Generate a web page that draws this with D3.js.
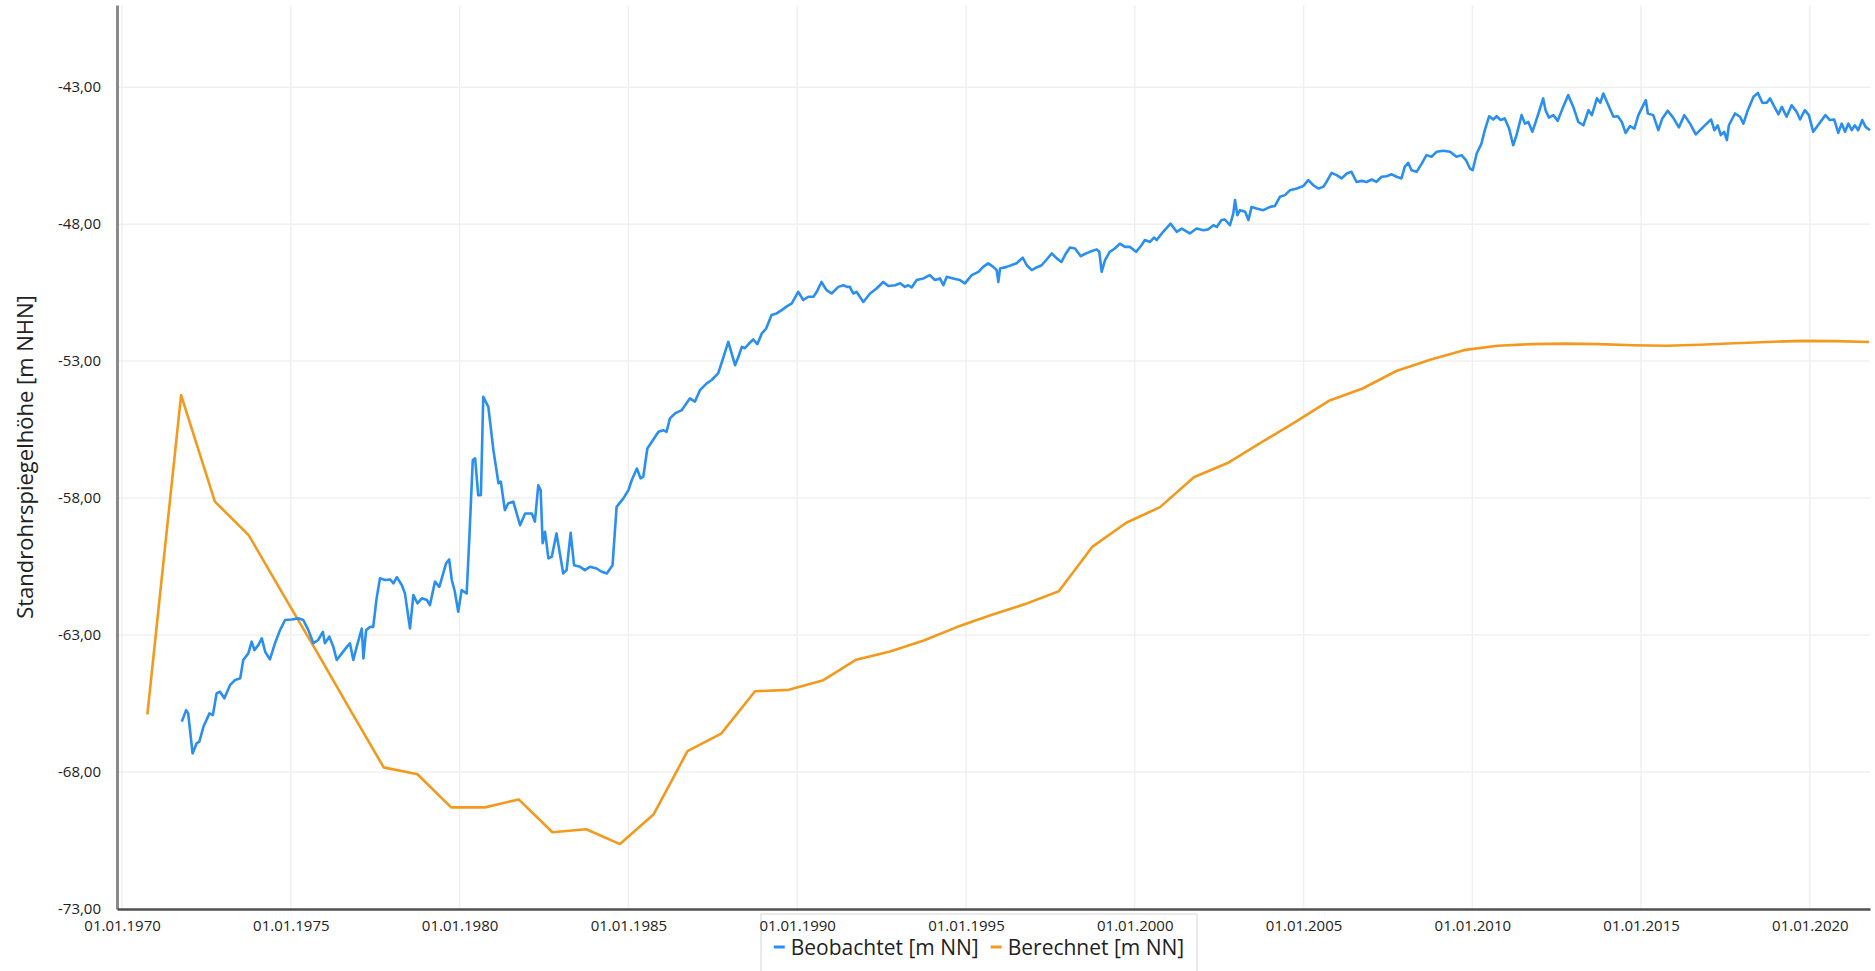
<!DOCTYPE html>
<html>
<head>
<meta charset="utf-8">
<script src="https://cdn.jsdelivr.net/npm/d3@7"></script>
<style>
  html, body { margin: 0; padding: 0; background: #fff; }
  svg { display: block; }
  text { font-family: "Open Sans", "Noto Sans", sans-serif; fill: #222; }
</style>
</head>
<body>
<svg id="chart" width="1875" height="971"></svg>
<script>
// ---------- data ----------
const seriesNames = ["Beobachtet [m NN]", "Berechnet [m NN]"];
const yTickValues = [-73, -68, -63, -58, -53, -48, -43];
const xTickYears = [1970, 1975, 1980, 1985, 1990, 1995, 2000, 2005, 2010, 2015, 2020];
const xDomainYears = [1969.85, 2021.78];
const yDomain = [-73, -40];

// Berechnet (computed), one value per year (autumn)
const calcTimes = [1970.75,1971.75,1972.75,1973.75,1974.75,1975.75,1976.75,1977.75,1978.75,1979.75,
  1980.75,1981.75,1982.75,1983.75,1984.75,1985.75,1986.75,1987.75,1988.75,1989.75,
  1990.75,1991.75,1992.75,1993.75,1994.75,1995.75,1996.75,1997.75,1998.75,1999.75,
  2000.75,2001.75,2002.75,2003.75,2004.75,2005.75,2006.75,2007.75,2008.75,2009.75,
  2010.75,2011.75,2012.75,2013.75,2014.75,2015.75,2016.75,2017.75,2018.75,2019.75,
  2020.75,2021.75];
const calcLevels = [-65.9,-54.24,-58.13,-59.35,-61.47,-63.57,-65.71,-67.83,-68.08,-69.29,
  -69.29,-69.0,-70.2,-70.09,-70.63,-69.54,-67.24,-66.6,-65.05,-65.0,
  -64.66,-63.9,-63.6,-63.2,-62.7,-62.27,-61.87,-61.4,-59.77,-58.9,
  -58.33,-57.24,-56.72,-55.97,-55.23,-54.45,-54.0,-53.36,-52.95,-52.6,
  -52.44,-52.38,-52.36,-52.38,-52.42,-52.44,-52.4,-52.35,-52.3,-52.26,
  -52.27,-52.3];

// Beobachtet (observed)
const obsTimes = [
  1971.77,1971.90,1971.96,1972.09,1972.21,1972.29,1972.41,1972.59,1972.69,1972.80,1972.90,
  1973.03,1973.20,1973.35,1973.50,1973.59,1973.74,1973.84,1973.92,1974.04,1974.14,1974.24,
  1974.38,1974.53,1974.68,1974.83,1975.03,1975.22,1975.37,1975.52,1975.67,1975.81,1975.95,
  1976.01,1976.14,1976.26,1976.36,1976.51,1976.66,1976.75,1976.85,1976.95,1977.10,1977.15,
  1977.23,1977.35,1977.44,1977.54,1977.64,1977.79,1977.94,1978.04,1978.14,1978.29,1978.38,
  1978.53,1978.63,1978.75,1978.88,1979.03,1979.12,1979.27,1979.40,1979.50,1979.60,1979.69,
  1979.77,1979.86,1979.96,1980.06,1980.21,1980.29,1980.39,1980.46,1980.55,1980.63,1980.70,
  1980.85,1981.00,1981.15,1981.22,1981.34,1981.44,1981.59,
  1981.79,1981.94,1982.14,1982.23,1982.33,1982.40,1982.46,1982.53,1982.63,1982.73,1982.87,
  1983.07,1983.17,1983.29,1983.39,1983.57,1983.71,1983.86,1984.06,1984.21,1984.36,1984.53,
  1984.65,1984.85,1985.00,1985.10,1985.25,1985.36,1985.44,1985.56,1985.69,1985.89,1986.03,
  1986.13,1986.23,1986.38,1986.58,1986.68,1986.82,1986.97,1987.12,1987.32,1987.47,1987.66,
  1987.79,1987.96,1988.06,1988.16,1988.26,1988.36,1988.45,1988.58,1988.70,1988.82,1988.95,
  1989.08,1989.24,1989.39,1989.54,1989.67,1989.84,1990.03,1990.18,1990.33,1990.48,1990.58,
  1990.72,1990.87,1991.02,1991.22,1991.37,1991.48,
  1991.56,1991.66,1991.76,1991.96,1992.16,1992.35,1992.55,1992.70,1992.90,1993.05,1993.19,
  1993.29,1993.39,1993.54,1993.74,1993.93,1994.08,1994.23,1994.33,1994.43,1994.62,1994.82,
  1994.97,1995.17,1995.37,1995.51,1995.66,1995.81,1995.91,1995.96,1996.01,1996.21,1996.50,
  1996.68,1996.80,1996.95,1997.09,1997.24,1997.39,1997.54,1997.69,1997.83,1997.96,1998.08,
  1998.23,1998.40,1998.52,1998.67,1998.87,1998.95,1999.02,1999.12,1999.26,1999.41,1999.56,
  1999.71,1999.86,2000.04,2000.20,2000.30,2000.45,2000.57,2000.65,2000.84,2001.06,2001.24,
  2001.39,
  2001.63,2001.83,2002.03,2002.18,2002.33,2002.43,2002.57,2002.67,2002.82,2002.92,2002.97,
  2003.04,2003.12,2003.27,2003.37,2003.46,2003.61,2003.81,2004.01,2004.15,2004.30,2004.45,
  2004.60,2004.80,2004.99,2005.14,2005.29,2005.44,2005.58,2005.68,2005.83,2005.98,2006.13,
  2006.28,2006.42,2006.57,2006.72,2006.87,2007.02,2007.16,2007.31,2007.46,2007.61,2007.76,
  2007.90,2008.00,2008.10,2008.20,2008.35,2008.50,2008.64,2008.79,2008.94,2009.14,2009.34,
  2009.53,2009.68,2009.81,2009.93,2010.01,2010.13,2010.27,2010.37,2010.50,2010.62,2010.72,
  2010.84,2010.96,2011.09,2011.21,2011.31,2011.46,
  2011.56,2011.66,2011.78,2011.96,2012.10,2012.17,2012.27,2012.40,2012.53,2012.69,2012.84,
  2012.99,2013.14,2013.29,2013.44,2013.54,2013.69,2013.79,2013.88,2014.03,2014.18,2014.31,
  2014.43,2014.54,2014.67,2014.80,2014.92,2015.04,2015.14,2015.20,2015.36,2015.51,2015.63,
  2015.79,2015.95,2016.12,2016.28,2016.45,2016.62,2016.79,2016.94,2017.07,2017.17,2017.27,
  2017.36,2017.46,2017.54,2017.60,2017.78,2017.93,2018.03,2018.16,2018.33,2018.46,2018.59,
  2018.72,2018.82,2018.95,2019.07,2019.17,2019.31,2019.46,2019.61,2019.71,2019.85,2019.97,
  2020.10,2020.24,2020.46,2020.59,2020.72,2020.84,2020.94,2021.04,2021.14,2021.24,2021.33,
  2021.43,2021.55,2021.65,2021.78];
const obsLevels = [
  -66.16,-65.74,-65.86,-67.32,-66.95,-66.89,-66.35,-65.86,-65.92,-65.13,-65.07,
  -65.31,-64.82,-64.64,-64.58,-63.91,-63.67,-63.24,-63.55,-63.36,-63.12,-63.61,
  -63.89,-63.30,-62.82,-62.45,-62.43,-62.39,-62.45,-62.82,-63.30,-63.18,-62.88,
  -63.30,-63.06,-63.43,-63.91,-63.67,-63.43,-63.30,-63.91,-63.43,-62.76,-63.85,
  -62.82,-62.70,-62.70,-61.66,-60.93,-60.99,-60.97,-61.11,-60.89,-61.18,-61.48,
  -62.76,-61.54,-61.84,-61.66,-61.72,-61.91,-61.05,-61.24,-60.81,-60.38,-60.24,
  -60.99,-61.42,-62.15,-61.36,-61.48,-59.41,-56.61,-56.55,-57.89,-57.89,-54.30,
  -54.67,-56.25,-57.46,-57.40,-58.44,-58.19,-58.13,
  -58.99,-58.56,-58.56,-58.86,-57.53,-57.71,-59.65,-59.23,-60.20,-60.14,-59.29,
  -60.75,-60.63,-59.27,-60.45,-60.51,-60.63,-60.51,-60.57,-60.69,-60.75,-60.45,
  -58.32,-58.01,-57.71,-57.34,-56.92,-57.28,-57.22,-56.19,-55.95,-55.58,-55.52,
  -55.58,-55.09,-54.91,-54.79,-54.61,-54.36,-54.48,-54.06,-53.81,-53.69,-53.45,
  -52.96,-52.30,-52.72,-53.15,-52.84,-52.48,-52.53,-52.35,-52.21,-52.38,-51.99,
  -51.81,-51.32,-51.26,-51.14,-51.02,-50.89,-50.47,-50.77,-50.65,-50.65,-50.47,
  -50.11,-50.41,-50.53,-50.29,-50.23,-50.29,
  -50.29,-50.53,-50.47,-50.84,-50.53,-50.35,-50.11,-50.26,-50.23,-50.16,-50.29,
  -50.23,-50.31,-50.04,-49.98,-49.86,-50.04,-49.98,-50.23,-49.92,-49.98,-50.04,
  -50.16,-49.86,-49.74,-49.56,-49.43,-49.56,-49.68,-50.11,-49.62,-49.56,-49.43,
  -49.22,-49.50,-49.68,-49.58,-49.50,-49.29,-49.07,-49.25,-49.38,-49.07,-48.85,
  -48.89,-49.17,-49.09,-49.01,-48.92,-49.01,-49.74,-49.31,-49.01,-48.89,-48.71,
  -48.83,-48.83,-49.01,-48.77,-48.58,-48.65,-48.49,-48.58,-48.28,-47.98,-48.28,
  -48.16,
  -48.34,-48.16,-48.22,-48.19,-48.04,-48.10,-47.85,-47.83,-48.04,-47.61,-47.12,
  -47.67,-47.49,-47.55,-47.85,-47.37,-47.43,-47.49,-47.37,-47.34,-47.00,-46.94,
  -46.76,-46.70,-46.61,-46.39,-46.58,-46.70,-46.64,-46.46,-46.13,-46.21,-46.33,
  -46.15,-46.09,-46.46,-46.42,-46.46,-46.37,-46.46,-46.27,-46.25,-46.18,-46.27,
  -46.33,-45.91,-45.76,-46.03,-46.09,-45.79,-45.48,-45.54,-45.36,-45.32,-45.36,
  -45.54,-45.48,-45.66,-45.97,-46.03,-45.42,-45.06,-44.57,-44.06,-44.18,-44.06,
  -44.20,-44.14,-44.51,-45.12,-44.75,-44.02,
  -44.33,-44.27,-44.63,-43.96,-43.41,-43.84,-44.11,-44.02,-44.23,-43.72,-43.29,
  -43.72,-44.27,-44.39,-43.84,-44.02,-43.41,-43.57,-43.23,-43.66,-44.08,-44.06,
  -44.27,-44.67,-44.42,-44.51,-44.02,-43.72,-43.47,-43.96,-44.02,-44.57,-44.14,
  -43.86,-44.11,-44.47,-44.02,-44.33,-44.72,-44.51,-44.33,-44.18,-44.57,-44.39,
  -44.75,-44.63,-44.93,-44.39,-43.96,-44.08,-44.33,-43.84,-43.35,-43.21,-43.57,
  -43.57,-43.41,-43.72,-43.99,-43.72,-44.08,-43.66,-43.90,-44.18,-43.84,-44.02,
  -44.63,-44.39,-44.02,-44.20,-44.18,-44.67,-44.33,-44.63,-44.33,-44.57,-44.39,
  -44.57,-44.20,-44.45,-44.57];

// ---------- helpers ----------
function yearToDate(t) {
  const y = Math.floor(t);
  const a = new Date(y, 0, 1), b = new Date(y + 1, 0, 1);
  return new Date(+a + (t - y) * (b - a));
}
const fmtNum = d => d.toFixed(2).replace(".", ",");
const fmtDate = d3.timeFormat("%d.%m.%Y");

// ---------- layout ----------
const W = 1875, H = 971;
const plot = { left: 117, right: 1870, top: 5, bottom: 909 };
const colors = { obs: "#2b8ff0", calc: "#f39a1e" };

const svg = d3.select("#chart");

const x = d3.scaleTime()
  .domain(xDomainYears.map(yearToDate))
  .range([plot.left, plot.right]);
const y = d3.scaleLinear()
  .domain(yDomain)
  .range([plot.bottom, plot.top]);

const xTicks = xTickYears.map(yr => new Date(yr, 0, 1));

// grid
const grid = svg.append("g").attr("class", "grid");
grid.selectAll("line.v").data(xTicks).join("line")
  .attr("class", "v")
  .attr("x1", d => x(d)).attr("x2", d => x(d))
  .attr("y1", plot.top).attr("y2", plot.bottom)
  .attr("stroke", "#f0f0f0").attr("stroke-width", 1.5);
grid.selectAll("line.h").data(yTickValues.slice(1)).join("line")
  .attr("class", "h")
  .attr("x1", plot.left).attr("x2", plot.right)
  .attr("y1", d => y(d)).attr("y2", d => y(d))
  .attr("stroke", "#f0f0f0").attr("stroke-width", 1.5);

// lines
const obsData = obsTimes.map((t, i) => ({ date: yearToDate(t), v: obsLevels[i] }));
const calcData = calcTimes.map((t, i) => ({ date: yearToDate(t), v: calcLevels[i] }));
const line = d3.line().x(d => x(d.date)).y(d => y(d.v));

svg.append("path").datum(calcData)
  .attr("fill", "none").attr("stroke", colors.calc)
  .attr("stroke-width", 2.6).attr("stroke-linejoin", "round")
  .attr("d", line);
svg.append("path").datum(obsData)
  .attr("fill", "none").attr("stroke", colors.obs)
  .attr("stroke-width", 2.6).attr("stroke-linejoin", "round")
  .attr("d", line);

// legend (drawn before the axis so the tick labels stay visible on top)
const legend = svg.append("g");
const box = { left: 761, right: 1197, top: 914, bottom: 980 };
legend.append("rect")
  .attr("x", box.left).attr("y", box.top)
  .attr("width", box.right - box.left).attr("height", box.bottom - box.top)
  .attr("fill", "#fff").attr("stroke", "#d6d6d6").attr("stroke-width", 1);
const items = [{ name: seriesNames[0], color: colors.obs }, { name: seriesNames[1], color: colors.calc }];
const itemG = legend.selectAll("g.item").data(items).join("g").attr("class", "item");
itemG.append("line")
  .attr("x1", 0).attr("x2", 11).attr("y1", 0).attr("y2", 0)
  .attr("stroke", d => d.color).attr("stroke-width", 3);
itemG.append("text")
  .attr("x", 17).attr("y", 0).attr("dominant-baseline", "central")
  .style("font-size", "21px")
  .text(d => d.name);
const widths = [];
itemG.each(function() { widths.push(this.getBBox().width); });
const gap = 12;
const total = d3.sum(widths) + gap * (widths.length - 1);
let cx = (box.left + box.right) / 2 - total / 2;
itemG.attr("transform", (d, i) => {
  const t = `translate(${cx},947)`;
  cx += widths[i] + gap;
  return t;
});

// y axis
const yAxis = svg.append("g")
  .attr("transform", `translate(${plot.left},0)`)
  .call(d3.axisLeft(y).tickValues(yTickValues).tickSize(0).tickPadding(16).tickFormat(fmtNum));
yAxis.select(".domain").attr("stroke", "#8a8a8a").attr("stroke-width", 3);
yAxis.selectAll("text").style("font-size", "15px").attr("fill", "#222");

// x axis
const xAxis = svg.append("g")
  .attr("transform", `translate(0,${plot.bottom})`)
  .call(d3.axisBottom(x).tickValues(xTicks).tickSize(0).tickPadding(11).tickFormat(fmtDate));
xAxis.select(".domain").attr("stroke", "#505050").attr("stroke-width", 2.5);
xAxis.selectAll("text").style("font-size", "15px").attr("fill", "#222");

// y title
svg.append("text")
  .attr("transform", `translate(24,${(plot.top + plot.bottom) / 2}) rotate(-90)`)
  .attr("text-anchor", "middle")
  .attr("dominant-baseline", "central")
  .style("font-size", "22px")
  .text("Standrohrspiegelhöhe [m NHN]");
</script>
</body>
</html>
